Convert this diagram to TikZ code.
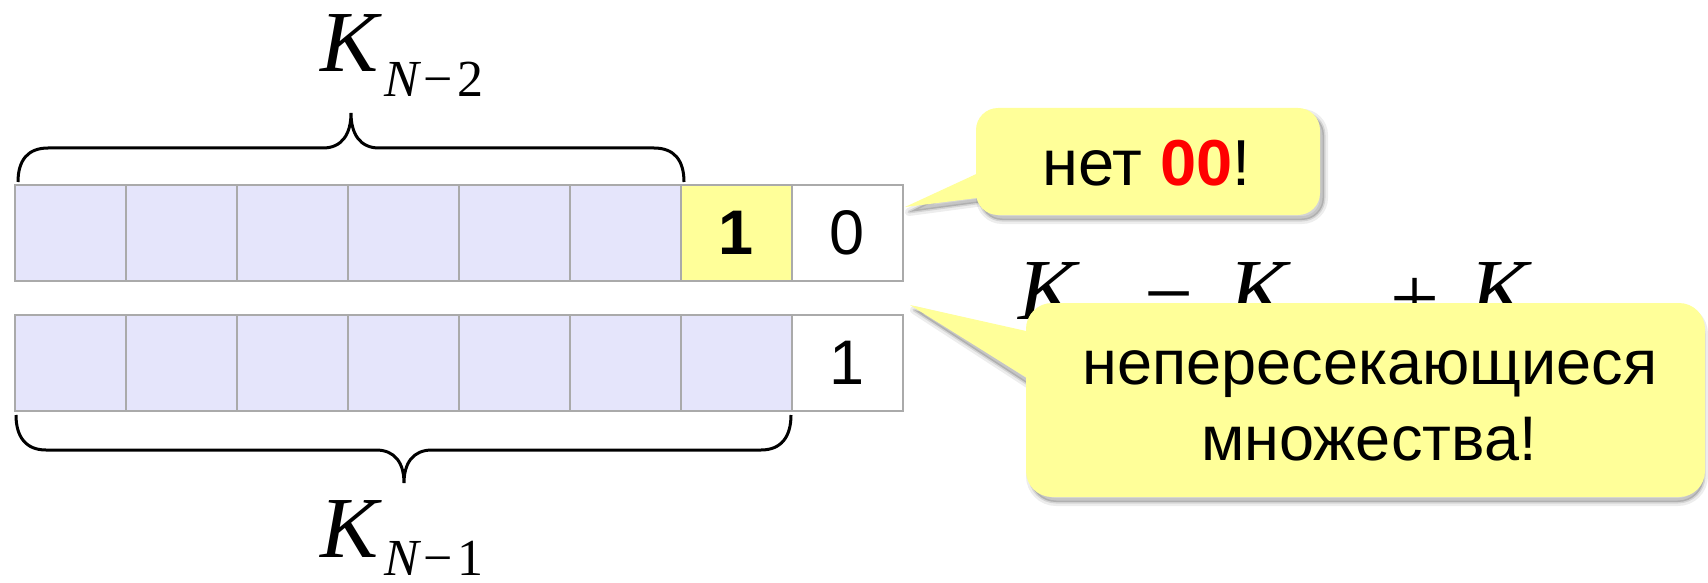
\documentclass[tikz,border=0pt]{standalone}
\usepackage{fontspec}
\setmainfont{Liberation Sans}
\newfontfamily\tms{Liberation Serif}
\definecolor{cellblue}{RGB}{229,229,251}
\definecolor{cellyel}{RGB}{255,255,153}
\definecolor{callyel}{RGB}{255,255,153}
\definecolor{cellline}{RGB}{170,170,170}
\definecolor{nred}{RGB}{255,0,0}
\tikzset{
  cellbox/.style={draw=cellline, line width=2.5pt, minimum width=111pt, minimum height=96pt,
    inner sep=0pt, outer sep=0pt, anchor=north west, font=\fontsize{63}{63}\selectfont},
  bracepath/.style={draw=black, line width=3pt},
  bigk/.style={anchor=base west, inner sep=0pt, font=\tms\itshape\fontsize{87}{87}\selectfont},
  subk/.style={anchor=base west, inner sep=0pt, font=\tms\fontsize{52}{52}\selectfont},
  opk/.style={anchor=base west, inner sep=0pt, font=\tms\fontsize{87}{87}\selectfont},
  calltext/.style={anchor=base, inner sep=0pt, font=\fontsize{63}{63}\selectfont},
  shadowA/.style={fill=black, draw=black, opacity=0.07, line width=8pt, line join=round},
  shadowB/.style={fill=black, draw=black, opacity=0.10, line width=3pt, line join=round},
  callfill/.style={fill=callyel},
}
\begin{document}
\begin{tikzpicture}[x=1pt,y=-1pt]
\useasboundingbox (0,0) rectangle (1708,583);
\fill[white] (0,0) rectangle (1708,583);

% row 1
\foreach \i in {0,...,5} {
  \node[cellbox, fill=cellblue] (r1c\i) at ({15+111*\i},185) {};
}
\node[cellbox, fill=cellyel] (r1c6) at ({15+111*6},185) {\textbf{1}};
\node[cellbox, fill=white] (r1c7) at ({15+111*7},185) {0};
% row 2
\foreach \i in {0,...,6} {
  \node[cellbox, fill=cellblue] (r2c\i) at ({15+111*\i},315) {};
}
\node[cellbox, fill=white] (r2c7) at ({15+111*7},315) {1};

% top brace
\draw[bracepath] (18,182) .. controls (18,160) and (28,148) .. (48,148) -- (323,148)
  .. controls (342,148) and (351,134) .. (351,113)
  .. controls (351,134) and (360,148) .. (379,148) -- (654,148)
  .. controls (674,148) and (684,160) .. (684,182);
% bottom brace
\draw[bracepath] (16,415) .. controls (16,437) and (26,450) .. (46,450) -- (376,450)
  .. controls (395,450) and (404,463) .. (404,483)
  .. controls (404,463) and (413,450) .. (432,450) -- (761,450)
  .. controls (781,450) and (791,437) .. (791,415);

% labels
\node[bigk] (k2) at (320,72) {K};
\node[subk] (k2s) at (384,97) {\itshape N\kern5pt\upshape −\kern4pt 2};
\node[bigk] (k1) at (320,557) {K};
\node[subk] (k1s) at (384,575) {\itshape N\kern5pt\upshape −\kern4pt 1};

% formula behind the second callout
\node[bigk] (f1) at (1018,319) {K};
\node[opk] (f2) at (1144,331) {=};
\node[bigk] (f3) at (1229,319) {K};
\node[opk] (f4) at (1390,327) {+};
\node[bigk] (f5) at (1470,319) {K};

% callout 1
\begin{scope}[xshift=4pt, yshift=-5pt]
  \path[shadowA, rounded corners=22pt] (976,108) rectangle (1320,215);
  \path[shadowA] (980,170) -- (905,207) -- (980,197) -- cycle;
  \path[shadowB, rounded corners=22pt] (976,108) rectangle (1320,215);
  \path[shadowB] (980,170) -- (905,207) -- (980,197) -- cycle;
\end{scope}
\path[callfill, rounded corners=22pt] (976,108) rectangle (1320,215);
\path[callfill] (985,170) -- (905,207) -- (985,197) -- cycle;
\node[calltext, font=\fontsize{65}{65}\selectfont] (t1) at (1147,185) {нет \textcolor{nred}{\textbf{00}}!};

% callout 2
\begin{scope}[xshift=4pt, yshift=-5pt]
  \path[shadowA, rounded corners=26pt] (1026,303) rectangle (1700,497);
  \path[shadowA] (1030,333) -- (910,305) -- (1030,383) -- cycle;
  \path[shadowB, rounded corners=26pt] (1026,303) rectangle (1700,497);
  \path[shadowB] (1030,333) -- (910,305) -- (1030,383) -- cycle;
\end{scope}
\path[callfill, rounded corners=26pt] (1026,303) rectangle (1705,497);
\path[callfill] (1035,333) -- (910,305) -- (1035,383) -- cycle;
\node[calltext] (t2) at (1370,384) {непересекающиеся};
\node[calltext] (t3) at (1369,460) {множества!};
\end{tikzpicture}
\end{document}
